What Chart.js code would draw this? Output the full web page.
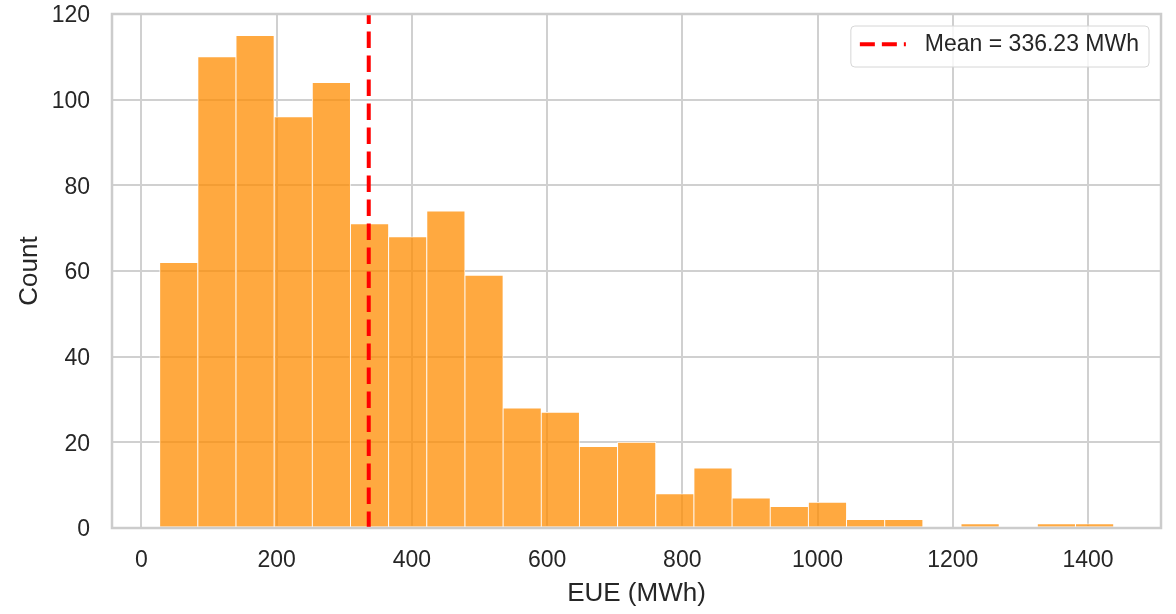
<!DOCTYPE html>
<html>
<head>
<meta charset="utf-8">
<script src="https://cdn.jsdelivr.net/npm/chart.js@4.4.1/dist/chart.umd.min.js"></script>
<style>
html,body{margin:0;padding:0;background:#fff;}
#wrap{position:relative;width:1176px;height:614px;}
</style>
</head>
<body>
<div id="wrap"><canvas id="c"></canvas></div>
<script>
// ---- Data ----
const binStart = 27.0;      // left edge of first bin, MWh
const binWidth = 56.44;     // width of each bin, MWh
const counts = [62, 110, 115, 96, 104, 71, 68, 74, 59, 28, 27, 19, 20, 8, 14, 7, 5, 6, 2, 2, 0, 1, 0, 1, 1];
const meanValue = 336.23;
const xTicks = [0, 200, 400, 600, 800, 1000, 1200, 1400];
const yTicks = [0, 20, 40, 60, 80, 100, 120];
const xLimits = [-43.5, 1508];
const yLimits = [0, 120];
const xTitle = 'EUE (MWh)';
const yTitle = 'Count';
const meanLabel = 'Mean = ' + meanValue.toFixed(2) + ' MWh';

const FONT = '"Liberation Sans", Arial, Helvetica, sans-serif';
const TEXT = '#262626';

const barData = counts.map((c, i) => ({ x: binStart + binWidth * (i + 0.5), y: c }));
const meanData = [{ x: meanValue, y: yLimits[0] }, { x: meanValue, y: yLimits[1] }];

const framePlugin = {
  id: 'frame',
  afterDatasetsDraw(chart) {
    const { ctx, chartArea: a } = chart;
    ctx.save();
    ctx.strokeStyle = '#cccccc';
    ctx.lineWidth = 2.5;
    ctx.strokeRect(a.left, a.top, a.right - a.left, a.bottom - a.top);
    ctx.restore();
  }
};

function rrect(ctx, x, y, w, h, r) {
  ctx.beginPath();
  ctx.moveTo(x + r, y);
  ctx.lineTo(x + w - r, y);
  ctx.arcTo(x + w, y, x + w, y + r, r);
  ctx.lineTo(x + w, y + h - r);
  ctx.arcTo(x + w, y + h, x + w - r, y + h, r);
  ctx.lineTo(x + r, y + h);
  ctx.arcTo(x, y + h, x, y + h - r, r);
  ctx.lineTo(x, y + r);
  ctx.arcTo(x, y, x + r, y, r);
  ctx.closePath();
}

const legendPlugin = {
  id: 'insideLegend',
  afterDraw(chart) {
    const { ctx, chartArea: a } = chart;
    const ds = chart.data.datasets[1];
    ctx.save();
    ctx.font = '23px ' + FONT;
    const tw = ctx.measureText(ds.label).width;
    const padL = 9, lineLen = 46, gap = 19, padR = 10, h = 41;
    const w = padL + lineLen + gap + tw + padR;
    const right = a.right - 12;
    const top = a.top + 12;
    const left = right - w;
    rrect(ctx, left, top, w, h, 4);
    ctx.fillStyle = 'rgba(255,255,255,0.8)';
    ctx.fill();
    ctx.strokeStyle = '#d6d6d6';
    ctx.lineWidth = 1;
    ctx.stroke();
    const cy = top + 18.2;
    ctx.beginPath();
    ctx.setLineDash([15, 7]);
    ctx.strokeStyle = ds.borderColor;
    ctx.lineWidth = ds.borderWidth;
    ctx.lineCap = 'butt';
    ctx.moveTo(left + padL, cy);
    ctx.lineTo(left + padL + lineLen, cy);
    ctx.stroke();
    ctx.setLineDash([]);
    ctx.fillStyle = TEXT;
    ctx.textBaseline = 'middle';
    ctx.textAlign = 'left';
    ctx.fillText(ds.label, left + padL + lineLen + gap, cy + 0.5);
    ctx.restore();
  }
};

Chart.defaults.font.family = FONT;
Chart.defaults.color = TEXT;

new Chart(document.getElementById('c'), {
  type: 'bar',
  data: {
    datasets: [
      {
        type: 'bar',
        label: 'Count',
        data: barData,
        backgroundColor: 'rgba(255,140,0,0.75)',
        borderColor: '#ffffff',
        borderWidth: 0.8,
        borderSkipped: false,
        barPercentage: 1.0,
        categoryPercentage: 1.0,
        grouped: false,
        order: 2
      },
      {
        type: 'line',
        label: meanLabel,
        data: meanData,
        borderColor: '#ff0000',
        borderWidth: 4,
        borderDash: [16.5, 7.5],
        borderCapStyle: 'butt',
        pointRadius: 0,
        fill: false,
        tension: 0,
        order: 1
      }
    ]
  },
  options: {
    responsive: true,
    maintainAspectRatio: false,
    animation: false,
    devicePixelRatio: 1,
    layout: { padding: { top: 14, right: 15, bottom: 0, left: 0 } },
    plugins: {
      legend: { display: false },
      tooltip: { enabled: false },
      title: { display: false }
    },
    scales: {
      x: {
        type: 'linear',
        offset: false,
        min: xLimits[0],
        max: xLimits[1],
        afterBuildTicks: (s) => { s.ticks = xTicks.map(v => ({ value: v })); },
        afterFit: (s) => { s.height = 86; s.paddingLeft = 0; s.paddingRight = 0; },
        ticks: {
          callback: (v) => String(v),
          font: { size: 23 },
          color: TEXT,
          padding: 18.5,
          maxRotation: 0,
          autoSkip: false
        },
        grid: { color: '#d0d0d0', lineWidth: 2, drawTicks: false, offset: false },
        border: { display: false },
        title: {
          display: true,
          text: xTitle,
          font: { size: 26 },
          color: TEXT,
          padding: { top: 0, bottom: 4.5 }
        }
      },
      y: {
        type: 'linear',
        min: yLimits[0],
        max: yLimits[1],
        afterBuildTicks: (s) => { s.ticks = yTicks.map(v => ({ value: v })); },
        afterFit: (s) => { s.width = 112; s.paddingTop = 0; s.paddingBottom = 0; },
        ticks: {
          callback: (v) => String(v),
          font: { size: 23 },
          color: TEXT,
          padding: 22,
          labelOffset: 2,
          autoSkip: false
        },
        grid: { color: '#d0d0d0', lineWidth: 2, drawTicks: false },
        border: { display: false },
        title: {
          display: true,
          text: yTitle,
          font: { size: 26 },
          color: TEXT,
          padding: { top: 14, bottom: 0 }
        }
      }
    }
  },
  plugins: [framePlugin, legendPlugin]
});
</script>
</body>
</html>
